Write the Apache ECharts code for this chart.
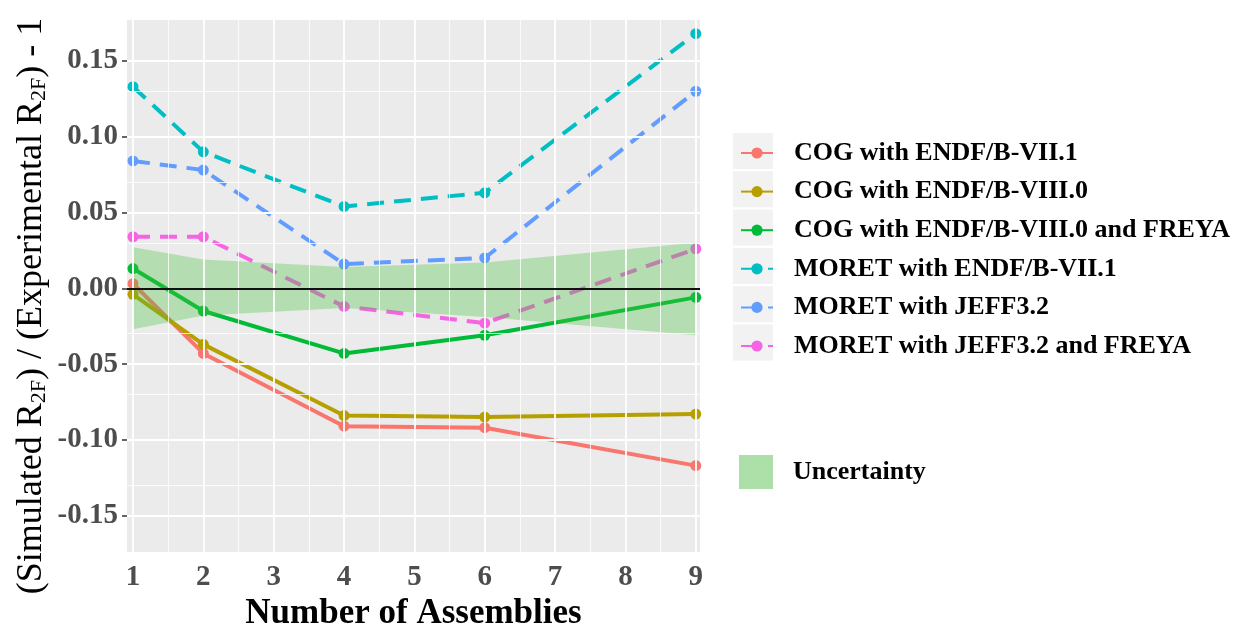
<!DOCTYPE html>
<html>
<head>
<meta charset="utf-8">
<script src="https://cdn.jsdelivr.net/npm/echarts@6/dist/echarts.min.js"></script>
<style>
  html, body { margin: 0; padding: 0; background: #fff; }
</style>
</head>
<body>
<div id="main" style="width:1235px;height:625px;"></div>
<script>
    // number of assemblies
    var xs = [1, 2, 4, 6, 9];

    // (Simulated R2F)/(Experimental R2F) - 1
    var cogVII1      = [0.003, -0.043, -0.091, -0.092, -0.117];
    var cogVIII0     = [-0.004, -0.037, -0.084, -0.085, -0.083];
    var cogVIII0Frey = [0.013, -0.015, -0.043, -0.031, -0.006];
    var moretVII1    = [0.133, 0.090, 0.054, 0.063, 0.168];
    var moretJeff    = [0.084, 0.078, 0.016, 0.020, 0.130];
    var moretJeffFrey= [0.034, 0.034, -0.012, -0.023, 0.026];

    // uncertainty band
    var bandUpper = [0.027, 0.019, 0.014, 0.017, 0.030];
    var bandLower = [-0.027, -0.018, -0.013, -0.019, -0.031];

    // ticks / grid
    var xTicks = [1, 2, 3, 4, 5, 6, 7, 8, 9];
    var xMinor = [1.5, 2.5, 3.5, 4.5, 5.5, 6.5, 7.5, 8.5];
    var yTicks = [-0.15, -0.10, -0.05, 0, 0.05, 0.10, 0.15];
    var yMinor = [-0.125, -0.075, -0.025, 0.025, 0.075, 0.125];

    var names = [
        'COG with ENDF/B-VII.1',
        'COG with ENDF/B-VIII.0',
        'COG with ENDF/B-VIII.0 and FREYA',
        'MORET with ENDF/B-VII.1',
        'MORET with JEFF3.2',
        'MORET with JEFF3.2 and FREYA'
    ];
    var values = [cogVII1, cogVIII0, cogVIII0Frey, moretVII1, moretJeff, moretJeffFrey];
    var colors = ['#F8766D', '#B79F00', '#00BA38', '#00BFC4', '#619CFF', '#F564E3'];
    var dashed = [false, false, false, true, true, true];

    var serif = "'Liberation Serif', 'Times New Roman', serif";

    function pairs(arr) {
        return arr.map(function (v, i) { return [xs[i], v]; });
    }

    var myChart = echarts.init(document.getElementById('main'));

    // grid lines drawn as markLines
    var gridLines = [];
    xMinor.forEach(function (v) { gridLines.push({ xAxis: v, lineStyle: { width: 0.8 } }); });
    yMinor.forEach(function (v) { gridLines.push({ yAxis: v, lineStyle: { width: 0.8 } }); });
    xTicks.forEach(function (v) { gridLines.push({ xAxis: v, lineStyle: { width: 1.8 } }); });
    yTicks.forEach(function (v) { gridLines.push({ yAxis: v, lineStyle: { width: 1.8 } }); });

    var series = [{
        name: 'grid',
        type: 'line',
        data: [],
        z: 1,
        silent: true,
        markLine: {
            silent: true,
            symbol: 'none',
            label: { show: false },
            animation: false,
            lineStyle: { color: '#ffffff', type: 'solid' },
            data: gridLines
        }
    }];

    names.forEach(function (n, i) {
        series.push({
            name: n,
            type: 'line',
            data: pairs(values[i]),
            z: 3,
            symbol: 'circle',
            symbolSize: 11,
            color: colors[i],
            lineStyle: { width: 4, type: dashed[i] ? [17, 10] : 'solid' },
            itemStyle: { color: colors[i] }
        });
    });

    series.push({
        name: 'Uncertainty',
        type: 'custom',
        z: 4,
        silent: true,
        itemStyle: { color: '#ADE0A9' },
        data: [[xs[0], 0]],
        renderItem: function (params, api) {
            var pts = [];
            for (var i = 0; i < xs.length; i++) pts.push(api.coord([xs[i], bandUpper[i]]));
            for (var j = xs.length - 1; j >= 0; j--) pts.push(api.coord([xs[j], bandLower[j]]));
            return {
                type: 'polygon',
                shape: { points: pts },
                style: { fill: 'rgba(70,195,60,0.33)' }
            };
        },
        markLine: {
            silent: true,
            symbol: 'none',
            label: { show: false },
            animation: false,
            lineStyle: { color: '#111', width: 2, type: 'solid' },
            data: [{ yAxis: 0 }]
        }
    });

    // gray legend key backgrounds
    var keyTop = 133, keyStep = 38.3;
    var keys = names.map(function (n, i) {
        return {
            type: 'rect',
            left: 733,
            top: keyTop + i * keyStep,
            z: -1,
            shape: { width: 40, height: 36 },
            style: { fill: '#F2F2F2' }
        };
    });

    option = {
        animation: false,
        backgroundColor: '#ffffff',
        grid: {
            left: 127, top: 20, right: 535, bottom: 73,
            outerBoundsMode: 'none',
            containLabel: false,
            show: true,
            backgroundColor: '#EBEBEB',
            borderWidth: 0
        },
        graphic: keys,
        legend: [{
            data: names,
            orient: 'vertical',
            left: 740,
            top: 140,
            padding: 0,
            itemWidth: 32,
            itemHeight: 14,
            itemGap: 12.6,
            selectedMode: false,
            textStyle: {
                fontFamily: serif, fontWeight: 'bold', fontSize: 26,
                color: '#000', lineHeight: 24, padding: [0, 0, 0, 16]
            }
        }, {
            data: [{ name: 'Uncertainty', icon: 'rect', itemStyle: { color: '#ADE0A9' } }],
            orient: 'vertical',
            left: 739,
            top: 455,
            padding: 0,
            itemWidth: 34,
            itemHeight: 34,
            selectedMode: false,
            textStyle: {
                fontFamily: serif, fontWeight: 'bold', fontSize: 26,
                color: '#000', padding: [0, 0, 0, 15]
            }
        }],
        xAxis: {
            type: 'value',
            min: 0.915,
            max: 9.06,
            name: 'Number of Assemblies',
            nameLocation: 'middle',
            nameGap: 33,
            nameTextStyle: { fontFamily: serif, fontWeight: 'bold', fontSize: 35, color: '#000' },
            axisLine: { show: false },
            axisTick: { show: true, customValues: xTicks, length: 5, lineStyle: { color: '#333', width: 1.5 } },
            axisLabel: {
                customValues: xTicks, margin: 11,
                fontFamily: serif, fontWeight: 'bold', fontSize: 29, color: '#4D4D4D'
            },
            splitLine: { show: false }
        },
        yAxis: {
            type: 'value',
            min: -0.174,
            max: 0.177,
            name: '(Simulated R{s|2F}) / (Experimental R{s|2F}) - 1',
            nameLocation: 'middle',
            nameRotate: 90,
            nameGap: 77,
            nameTextStyle: {
                fontFamily: serif, fontSize: 36, color: '#000',
                padding: [0, 40, 0, 0],
                rich: {
                    s: { fontFamily: serif, fontSize: 22, color: '#000', verticalAlign: 'bottom', padding: [12, 0, 0, 0] }
                }
            },
            axisLine: { show: false },
            axisTick: { show: true, customValues: yTicks, length: 5, lineStyle: { color: '#333', width: 1.5 } },
            axisLabel: {
                customValues: yTicks, margin: 9,
                fontFamily: serif, fontWeight: 'bold', fontSize: 29, color: '#4D4D4D',
                formatter: function (v) { return v.toFixed(2); }
            },
            splitLine: { show: false }
        },
        series: series
    };
    myChart.setOption(option);
</script>
</body>
</html>
